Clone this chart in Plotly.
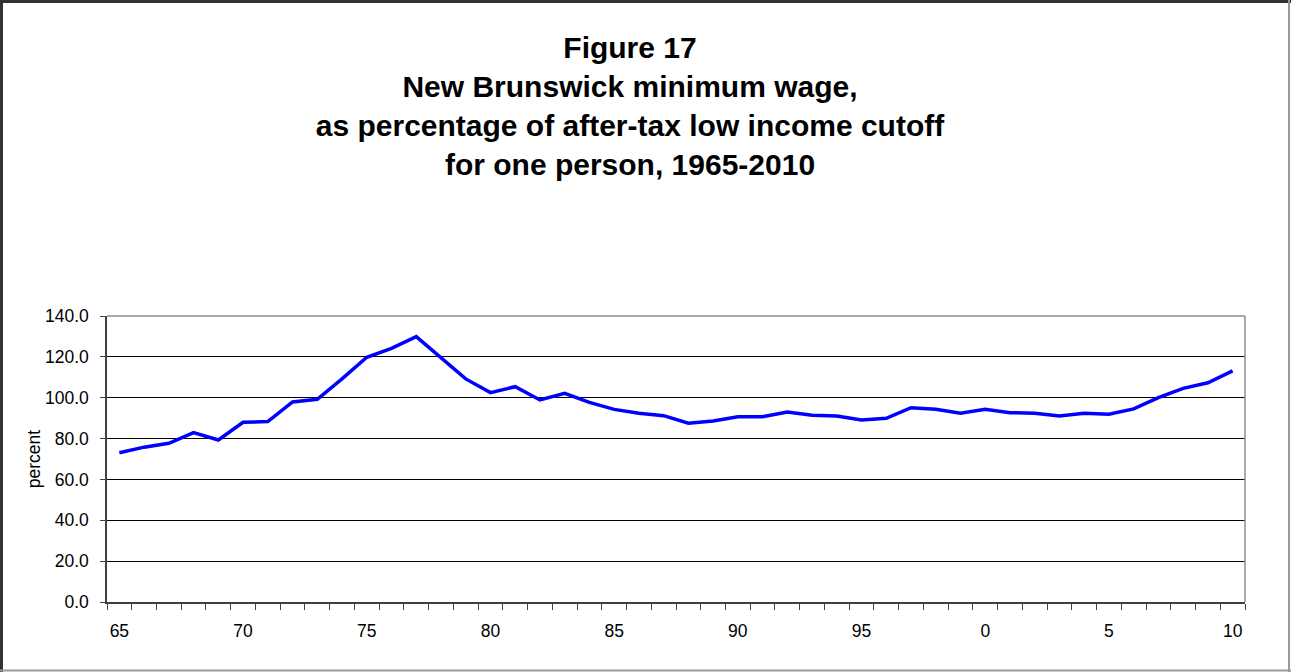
import plotly.graph_objects as go

# New Brunswick minimum wage as % of after-tax LICO, one person
years = list(range(1965, 2011))
percent = [
    73.1, 75.8, 77.7, 82.9, 79.3, 88.0, 88.3, 97.9, 99.2, 109.2,
    119.8, 124.2, 129.9, 119.5, 109.2, 102.5, 105.4, 98.9, 102.1, 97.7,
    94.3, 92.4, 91.2, 87.5, 88.6, 90.7, 90.7, 93.0, 91.4, 91.0,
    89.1, 89.9, 95.1, 94.3, 92.4, 94.3, 92.7, 92.4, 91.0, 92.4,
    91.9, 94.5, 100.0, 104.6, 107.3, 113.1,
]
tick_labels = [str(y % 100) if y % 5 == 0 else "" for y in years]
y_ticks = [0, 20, 40, 60, 80, 100, 120, 140]

W, H = 1291, 672
L, R, T, B = 107, 46, 316, 70
pw, ph = W - L - R, H - T - B


def px(x):
    return (x - L) / pw


def py(y):
    return (H - B - y) / ph


font = "Liberation Sans, Arial, sans-serif"

fig = go.Figure()
fig.add_trace(go.Scatter(
    x=years, y=percent, mode="lines",
    line=dict(color="#0000ff", width=3.5),
    hoverinfo="x+y", showlegend=False,
))

fig.update_layout(
    width=W, height=H,
    margin=dict(l=L, r=R, t=T, b=B, autoexpand=False),
    paper_bgcolor="white", plot_bgcolor="white",
    font=dict(family=font, color="black", size=17),
    title=dict(
        text="<b>Figure 17<br>New Brunswick minimum wage,<br>"
             "as percentage of after-tax low income cutoff<br>"
             "for one person, 1965-2010</b>",
        font=dict(family=font, size=30, color="black"),
        x=630 / W, xanchor="center", xref="container",
        y=1 - 58 / H, yanchor="top", yref="container",
    ),
)

fig.update_xaxes(
    type="category", tickvals=years, ticktext=tick_labels,
    range=[-0.5, len(years) - 0.5],
    tickson="boundaries", ticks="outside", ticklen=6, tickcolor="#404040",
    showline=True, linecolor="#404040", linewidth=1.5,
    showgrid=False, ticklabelstandoff=12, tickangle=0, automargin=False,
    tickfont=dict(size=17.5),
)
fig.update_yaxes(
    range=[0, 140], tickvals=y_ticks, tickformat=".1f",
    ticks="outside", ticklen=5, tickcolor="#404040",
    showline=True, linecolor="#404040", linewidth=1.5,
    showgrid=True, gridcolor="black", gridwidth=1,
    zeroline=False, ticklabelstandoff=8, automargin=False,
    tickfont=dict(size=17.5),
    title=dict(text="percent", font=dict(size=17.5), standoff=0),
)

# plot area border (top / right in gray)
fig.add_shape(type="line", xref="paper", yref="paper", x0=0, x1=1, y0=1, y1=1,
              line=dict(color="#8c8c8c", width=1.5))
fig.add_shape(type="line", xref="paper", yref="paper", x0=1, x1=1, y0=0, y1=1,
              line=dict(color="#8c8c8c", width=1.5))

# outer frame: dark top/left, gray right/bottom
fig.add_shape(type="line", xref="paper", yref="paper",
              x0=px(0), x1=px(W), y0=py(1.5), y1=py(1.5),
              line=dict(color="#333333", width=3))
fig.add_shape(type="line", xref="paper", yref="paper",
              x0=px(1.5), x1=px(1.5), y0=py(0), y1=py(H),
              line=dict(color="#333333", width=3))
fig.add_shape(type="line", xref="paper", yref="paper",
              x0=px(1289), x1=px(1289), y0=py(0), y1=py(H),
              line=dict(color="#999999", width=2))
fig.add_shape(type="line", xref="paper", yref="paper",
              x0=px(0), x1=px(W), y0=py(670.5), y1=py(670.5),
              line=dict(color="#999999", width=2))

fig.write_html("out.html", config={"displayModeBar": False},
               post_script="document.body.style.margin='0';")
